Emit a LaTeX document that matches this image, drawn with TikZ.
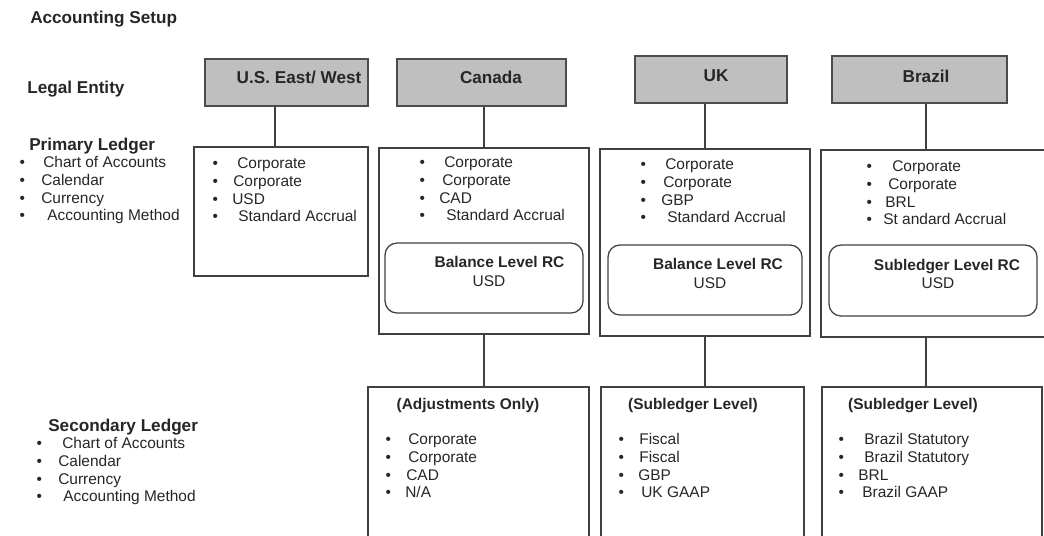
\documentclass[tikz,border=0pt]{standalone}
\usepackage{fontspec}
\setmainfont{Liberation Sans}
\usetikzlibrary{positioning}

\newdimen\px \px=0.025cm
\newcommand{\blt}[1]{\textbullet\hspace{#1\px}}

\tikzset{
  entity/.style = {draw=black!70, fill=black!25, line width=0.9pt, inner sep=0},
  ledger/.style = {draw=black!75, line width=0.9pt, inner sep=0},
  rcbox/.style  = {ledger, rounded corners=12\px},
  link/.style   = {draw=black!75, line width=0.9pt},
  txt/.style    = {inner sep=0, align=left, anchor=base west, text=black!85,
                   font=\fontsize{11}{12.45}\selectfont},
  head/.style   = {inner sep=0, anchor=base west, text=black!85,
                   font=\fontsize{12.2}{14}\selectfont\bfseries},
  entname/.style= {head, anchor=base},
  rclabel/.style= {inner sep=0, anchor=base, text=black!85,
                   font=\fontsize{11}{12.45}\selectfont\bfseries}
}

\begin{document}
\begin{tikzpicture}
  [
    x = 0.025cm, y = -0.025cm
  ]
    \useasboundingbox (0,0) rectangle (1044,535);
    \clip (0,0) rectangle (1044,535);

    % row titles (list nodes sit on their last line)
    \node (setup)  [head] at (30,23)  {Accounting Setup};
    \node (legal)  [head] at (27,93)  {Legal Entity};
    \node (prim)   [head] at (29,150) {Primary Ledger};
    \node (primls) [txt]  at (19.3,220.5)
      {\blt{18.3}Chart of Accounts\\ \blt{16.3}Calendar\\ \blt{16.3}Currency\\ \blt{22.3}Accounting Method};
    \node (sec)    [head] at (48,431) {Secondary Ledger};
    \node (secls)  [txt]  at (36.3,501.5)
      {\blt{20.3}Chart of Accounts\\ \blt{16.3}Calendar\\ \blt{16.3}Currency\\ \blt{21.3}Accounting Method};

    % legal entities
    \node (us) [entity, minimum width=163\px, minimum height=47\px] at (286.5,82.5) {};
    \node (ca) [entity, minimum width=169\px, minimum height=47\px] at (481.5,82.5) {};
    \node (uk) [entity, minimum width=152\px, minimum height=47\px] at (711,79.5) {};
    \node (br) [entity, minimum width=175\px, minimum height=47\px] at (919.5,79.5) {};
    \node (usname) [entname] at (299,83) {U.S. East/ West};
    \node (caname) [entname] at (491,83) {Canada};
    \node (ukname) [entname] at (716,81) {UK};
    \node (brname) [entname] at (926,82) {Brazil};

    % primary ledgers
    \node (usp) [ledger, minimum width=174\px, minimum height=129\px] at (281,211.5) {};
    \node (cap) [ledger, minimum width=210\px, minimum height=186\px] at (484,241) {};
    \node (ukp) [ledger, minimum width=210\px, minimum height=187\px] at (705,242.5) {};
    \node (brp) [ledger, minimum width=239\px, minimum height=187\px] at (940.5,243.5) {};
    \node (usls) [txt] at (212.3,221.5)
      {\blt{19.3}Corporate\\ \blt{15.3}Corporate\\ \blt{14.3}USD\\ \blt{20.3}Standard Accrual};
    \node (cals) [txt] at (419.3,220.5)
      {\blt{19.3}Corporate\\ \blt{17.3}Corporate\\ \blt{14.3}CAD\\ \blt{21.3}Standard Accrual};
    \node (ukls) [txt] at (640.3,222.5)
      {\blt{19.3}Corporate\\ \blt{17.3}Corporate\\ \blt{15.3}GBP\\ \blt{21.3}Standard Accrual};
    \node (brls) [txt] at (866.3,224.5)
      {\blt{20.3}Corporate\\ \blt{16.3}Corporate\\ \blt{13.3}BRL\\ \blt{11.3}St andard Accrual};

    % reporting currencies
    \node (carc) [rcbox, minimum width=198\px, minimum height=70\px] at (484,278) {};
    \node (ukrc) [rcbox, minimum width=194\px, minimum height=70\px] at (705,280) {};
    \node (brrc) [rcbox, minimum width=208\px, minimum height=71\px] at (933,280.5) {};
    \node (carct) [rclabel] at (499.5,267.5) {Balance Level RC};
    \node (carcc) [rclabel, font=\fontsize{11}{12.45}\selectfont] at (489,286.5) {USD};
    \node (ukrct) [rclabel] at (718,269.5) {Balance Level RC};
    \node (ukrcc) [rclabel, font=\fontsize{11}{12.45}\selectfont] at (710,288.5) {USD};
    \node (brrct) [rclabel] at (947,270.5) {Subledger Level RC};
    \node (brrcc) [rclabel, font=\fontsize{11}{12.45}\selectfont] at (938,288.5) {USD};

    % secondary ledgers
    \node (cas) [ledger, minimum width=221\px, minimum height=173\px] at (478.5,473.5) {};
    \node (uks) [ledger, minimum width=203\px, minimum height=173\px] at (702.5,473.5) {};
    \node (brs) [ledger, minimum width=220\px, minimum height=173\px] at (932,473.5) {};
    \node (cast) [rclabel] at (468,409.5) {(Adjustments Only)};
    \node (ukst) [rclabel] at (693,409.5) {(Subledger Level)};
    \node (brst) [rclabel] at (913,409.5) {(Subledger Level)};
    \node (casls) [txt] at (385.3,497.5)
      {\blt{17.3}Corporate\\ \blt{17.3}Corporate\\ \blt{15.3}CAD\\ \blt{14.3}N/A};
    \node (uksls) [txt] at (618.3,497.5)
      {\blt{15.3}Fiscal\\ \blt{15.3}Fiscal\\ \blt{14.3}GBP\\ \blt{17.3}UK GAAP};
    \node (brsls) [txt] at (838.3,497.5)
      {\blt{20.3}Brazil Statutory\\ \blt{20.3}Brazil Statutory\\ \blt{14.3}BRL\\ \blt{18.3}Brazil GAAP};

    % connectors
    \draw [link] ([xshift=-11.5\px]us.south) -- ([xshift=-11.5\px]us.south |- usp.north);
    \draw [link] (cap.north |- ca.south) -- (cap.north);
    \draw [link] (ukp.north |- uk.south) -- (ukp.north);
    \draw [link] ([xshift=6.5\px]br.south) -- ([xshift=6.5\px]br.south |- brp.north);
    \draw [link] (cap.south) -- (cap.south |- cas.north);
    \draw [link] (ukp.south) -- (ukp.south |- uks.north);
    \draw [link] ([xshift=6.5\px]br.south |- brp.south) -- ([xshift=6.5\px]br.south |- brs.north);
  \end{tikzpicture}
\end{document}
